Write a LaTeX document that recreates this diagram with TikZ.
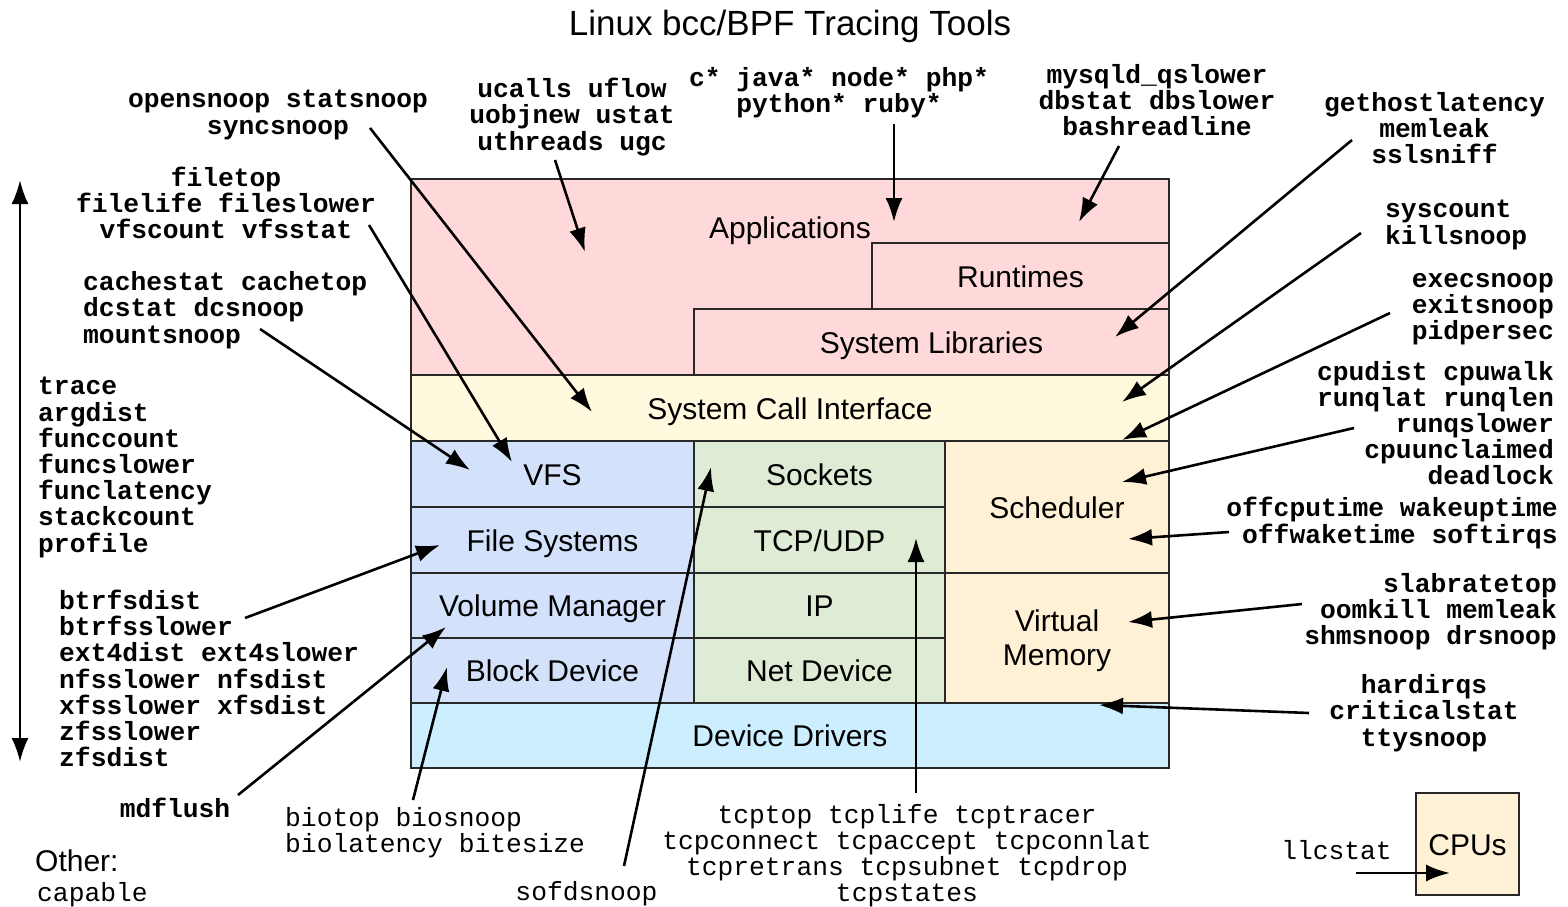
\documentclass[tikz,border=0pt]{standalone}
\usepackage{fontspec}
\setmainfont{Liberation Sans}
\newfontfamily\monofnt{Liberation Mono}
\usetikzlibrary{arrows.meta}
\definecolor{cpink}{RGB}{255,217,217}
\definecolor{cyell}{RGB}{255,250,221}
\definecolor{cblue}{RGB}{211,225,250}
\definecolor{cgreen}{RGB}{222,235,213}
\definecolor{cpeach}{RGB}{255,241,214}
\definecolor{ccyan}{RGB}{204,238,255}
\definecolor{cedge}{RGB}{40,40,40}
\tikzset{
 lay/.style={draw=cedge, line width=1.8pt, inner sep=0pt, font=\fontsize{30}{34}\selectfont, align=center, text height=22pt, text depth=0pt},
 lbl/.style={inner sep=0pt, font=\fontsize{30}{34}\selectfont, align=center},
 tool/.style={font=\monofnt\bfseries\fontsize{26.3}{26.2}\selectfont, inner sep=0pt, align=center, yshift=-2pt},
 tooln/.style={font=\monofnt\fontsize{26.3}{26.2}\selectfont, inner sep=0pt, align=center, yshift=-2pt},
 toolL/.style={tool, align=left, anchor=west},
 toolR/.style={tool, align=right, anchor=east},
 ptr/.style={line width=2.6pt, -{Latex[length=24pt,width=17pt]}},
}
\begin{document}
\begin{tikzpicture}[x=1pt,y=-1pt]
\useasboundingbox (0,0) rectangle (1568,907);
% title
\node[lbl, font=\fontsize{35}{40}\selectfont] (title) at (790,26) {Linux bcc/BPF Tracing Tools};
% layers
\node[draw=cedge, line width=1.8pt, fill=cpink, minimum width=758pt, minimum height=196pt] (app) at (790,277) {};
\node[lbl, text height=22pt, text depth=0pt] (applbl) at (790,227) {Applications};
\node[lay, fill=cpink, minimum width=297pt, minimum height=66pt] (rt) at (1020.5,276) {Runtimes};
\node[lay, fill=cpink, minimum width=475pt, minimum height=66pt] (sl) at (931.5,342) {System Libraries};
\node[lay, fill=cyell, minimum width=758pt, minimum height=66pt] (sci) at (790,408) {System Call Interface};
\node[lay, fill=cblue, minimum width=283pt, minimum height=66pt] (vfs) at (552.5,474) {VFS};
\node[lay, fill=cblue, minimum width=283pt, minimum height=66pt] (fs) at (552.5,540) {File Systems};
\node[lay, fill=cblue, minimum width=283pt, minimum height=65pt] (vm) at (552.5,605.5) {Volume Manager};
\node[lay, fill=cblue, minimum width=283pt, minimum height=65pt] (bd) at (552.5,670.5) {Block Device};
\node[lay, fill=cgreen, minimum width=251pt, minimum height=66pt] (sock) at (819.5,474) {Sockets};
\node[lay, fill=cgreen, minimum width=251pt, minimum height=66pt] (tcpudp) at (819.5,540) {TCP/UDP};
\node[lay, fill=cgreen, minimum width=251pt, minimum height=65pt] (ip) at (819.5,605.5) {IP};
\node[lay, fill=cgreen, minimum width=251pt, minimum height=65pt] (nd) at (819.5,670.5) {Net Device};
\node[lay, fill=cpeach, minimum width=224pt, minimum height=132pt] (sched) at (1057,507) {Scheduler};
\node[draw=cedge, line width=1.8pt, fill=cpeach, minimum width=224pt, minimum height=130pt] (vmem) at (1057,638) {};
\node[lbl] (vmemlbl) at (1057,641) {Virtual\\Memory};
\node[lay, fill=ccyan, minimum width=758pt, minimum height=65pt] (dd) at (790,735.5) {Device Drivers};
\node[lay, fill=cpeach, minimum width=103pt, minimum height=102pt] (cpus) at (1467.5,844) {CPUs};
% tool texts
\node[tool] (t1) at (278,113) {opensnoop statsnoop\\syncsnoop};
\node[tool] (t2) at (572,115) {ucalls uflow\\uobjnew ustat\\uthreads ugc};
\node[tool] (t3) at (839,90.5) {c* java* node* php*\\python* ruby*};
\node[tool] (t4) at (1157,98) {mysqld\_qslower\\dbstat dbslower\\bashreadline};
\node[tool] (t5) at (1434.5,126) {gethostlatency\\memleak\\sslsniff};
\node[tool] (t6) at (226,201) {filetop\\filelife fileslower\\vfscount vfsstat};
\node[toolL] (t7) at (83,308) {cachestat cachetop\\dcstat dcsnoop\\mountsnoop};
\node[toolL] (t8) at (38,465.5) {trace\\argdist\\funccount\\funcslower\\funclatency\\stackcount\\profile};
\node[toolL] (t9) at (59,676.5) {btrfsdist\\btrfsslower\\ext4dist ext4slower\\nfsslower nfsdist\\xfsslower xfsdist\\zfsslower\\zfsdist};
\node[tool] (t10) at (175,806) {mdflush};
\node[tooln, align=left, anchor=west] (t11) at (285,830.5) {biotop biosnoop\\biolatency bitesize};
\node[lbl, anchor=west] (other) at (35,861) {Other:};
\node[tooln, anchor=west] (t12) at (37,893) {capable};
\node[tooln] (t13) at (586.5,892) {sofdsnoop};
\node[tooln] (t14) at (907,853.5) {tcptop tcplife tcptracer\\tcpconnect tcpaccept tcpconnlat\\tcpretrans tcpsubnet tcpdrop\\tcpstates};
\node[tooln] (t15) at (1336.5,848) {llcstat};
\node[toolL] (t16) at (1385,223) {syscount\\killsnoop};
\node[toolR] (t17) at (1554,307) {execsnoop\\exitsnoop\\pidpersec};
\node[toolR] (t18) at (1554,421) {cpudist cpuwalk\\runqlat runqlen\\runqslower\\cpuunclaimed\\deadlock};
\node[toolR] (t19) at (1558,521) {offcputime wakeuptime\\offwaketime softirqs};
\node[toolR] (t20) at (1557,609.5) {slabratetop\\oomkill memleak\\shmsnoop drsnoop};
\node[tool] (t21) at (1424,711) {hardirqs\\criticalstat\\ttysnoop};
% connector end points
\coordinate (e1) at (592,412);
\coordinate (e2) at (585,252);
\coordinate (e3) at (894,222);
\coordinate (e4) at (1079,222);
\coordinate (e5) at (1115,337);
\coordinate (e6) at (512,462);
\coordinate (e7) at (470,470);
\coordinate (e8) at (1122,402);
\coordinate (e9) at (1122,440);
\coordinate (e10) at (1122,482);
\coordinate (e11) at (1128,539);
\coordinate (e12) at (1128,622);
\coordinate (e13) at (1099,705);
\coordinate (e14) at (440,545);
\coordinate (e15) at (446,627);
\coordinate (e16) at (447,667);
\coordinate (e17) at (711,467);
\coordinate (e18) at (916,538);
\coordinate (e19) at (1450,873);
\coordinate (s1) at (370,128);
\coordinate (s2) at (555,160);
\coordinate (s3) at (894,124);
\coordinate (s4) at (1119,146);
\coordinate (s5) at (1352,140);
\coordinate (s6) at (369,225);
\coordinate (s7) at (260,329);
\coordinate (s8) at (1361,233);
\coordinate (s9) at (1390,313);
\coordinate (s10) at (1354,428);
\coordinate (s11) at (1229,532);
\coordinate (s12) at (1302,604);
\coordinate (s13) at (1309,713);
\coordinate (s14) at (245,618);
\coordinate (s15) at (238,795);
\coordinate (s16) at (413,800);
\coordinate (s17) at (624,866);
\coordinate (s18) at (916,793);
\coordinate (s19) at (1356,873);
\coordinate (vtop) at (20,180);
\coordinate (vbot) at (20,762);
% connectors
\foreach \i in {1,...,19} \draw[ptr] (s\i) -- (e\i);
\draw[line width=2.6pt, {Latex[length=24pt,width=17pt]}-{Latex[length=24pt,width=17pt]}] (vtop) -- (vbot);
\end{tikzpicture}
\end{document}
